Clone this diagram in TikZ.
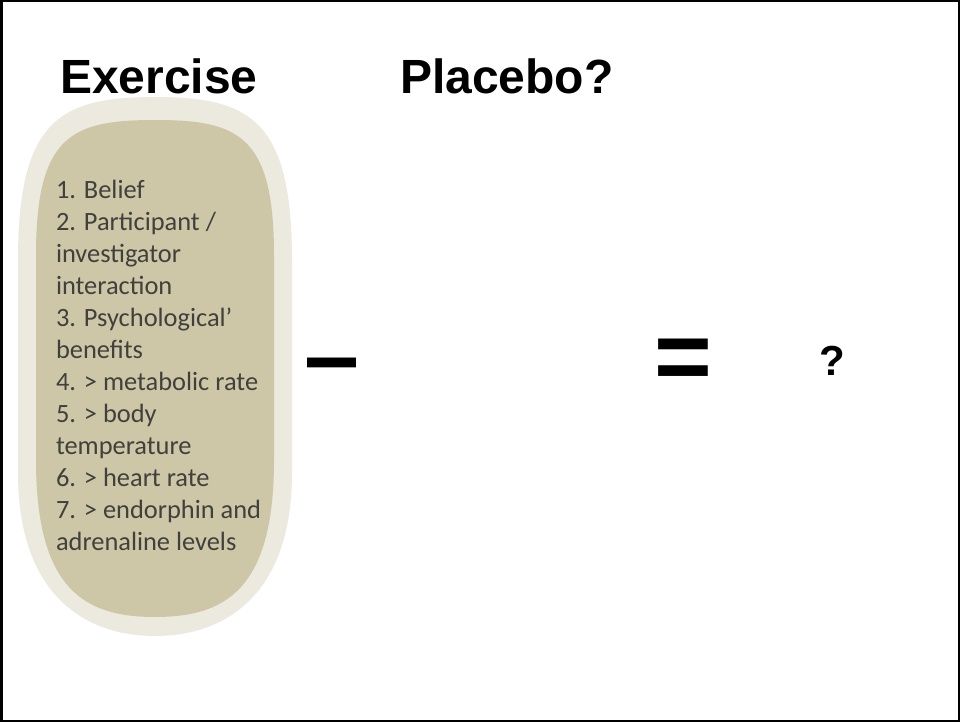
\documentclass[tikz,border=0pt]{standalone}
\usepackage{fontspec}
\setmainfont{Carlito}
\newfontfamily\arialfont{Liberation Sans}
\usepackage{tikz}
\usetikzlibrary{positioning}
\definecolor{pillouter}{RGB}{236,233,222}
\definecolor{pillinner}{RGB}{205,199,167}
\definecolor{listgray}{RGB}{64,64,60}

\begin{document}
\begin{tikzpicture}[x=1pt, y=-1pt]
  \tikzstyle{heading}=[inner sep=0pt, outer sep=0pt, anchor=base west, font=\arialfont\bfseries\fontsize{48}{50}\selectfont]
  \tikzstyle{operator}=[inner sep=0pt, outer sep=0pt, anchor=base west, font=\arialfont\bfseries\fontsize{99}{100}\selectfont]
  \tikzstyle{listline}=[inner sep=0pt, outer sep=0pt, anchor=base west, text=listgray, font=\fontsize{26.4}{32}\selectfont]
  \useasboundingbox (0,0) rectangle (960,722);

  % frame
  \draw[line width=2.5pt] (1.25,1.25) rectangle (958.75,720.75);

  % capsule
  \fill[pillouter] (18,260) .. controls (18,120) and (60,97) .. (155,97)
    .. controls (250,97) and (292,120) .. (292,260) -- (292,473)
    .. controls (292,595) and (225,636) .. (155,636)
    .. controls (85,636) and (18,595) .. (18,473) -- cycle;
  \fill[pillinner] (36,255) .. controls (36,135) and (72,120) .. (155,120)
    .. controls (238,120) and (274,135) .. (274,255) -- (274,460)
    .. controls (274,590) and (225,617) .. (155,617)
    .. controls (85,617) and (36,590) .. (36,460) -- cycle;

  % headings
  \node (exercise) at (60,94) [heading] {Exercise};
  \node (placebo) at (400,94) [heading] {Placebo?};

  % list of effects
  \foreach \txt [count=\i] in {1. Belief, 2. Participant /, investigator, interaction,
      3. Psychological’, benefits, 4. > metabolic rate, 5. > body, temperature,
      6. > heart rate, 7. > endorphin and, adrenaline levels} {
    \node (line\i) at (56, 166+32*\i) [listline] {\txt};
  }

  % the sum
  \node (minus) at (304,389) [operator] {–};
  \node (equals) at (654,390) [operator] {=};
  \node (result) at (819.5,375) [heading, font=\arialfont\bfseries\fontsize{42}{44}\selectfont] {?};
\end{tikzpicture}
\end{document}
